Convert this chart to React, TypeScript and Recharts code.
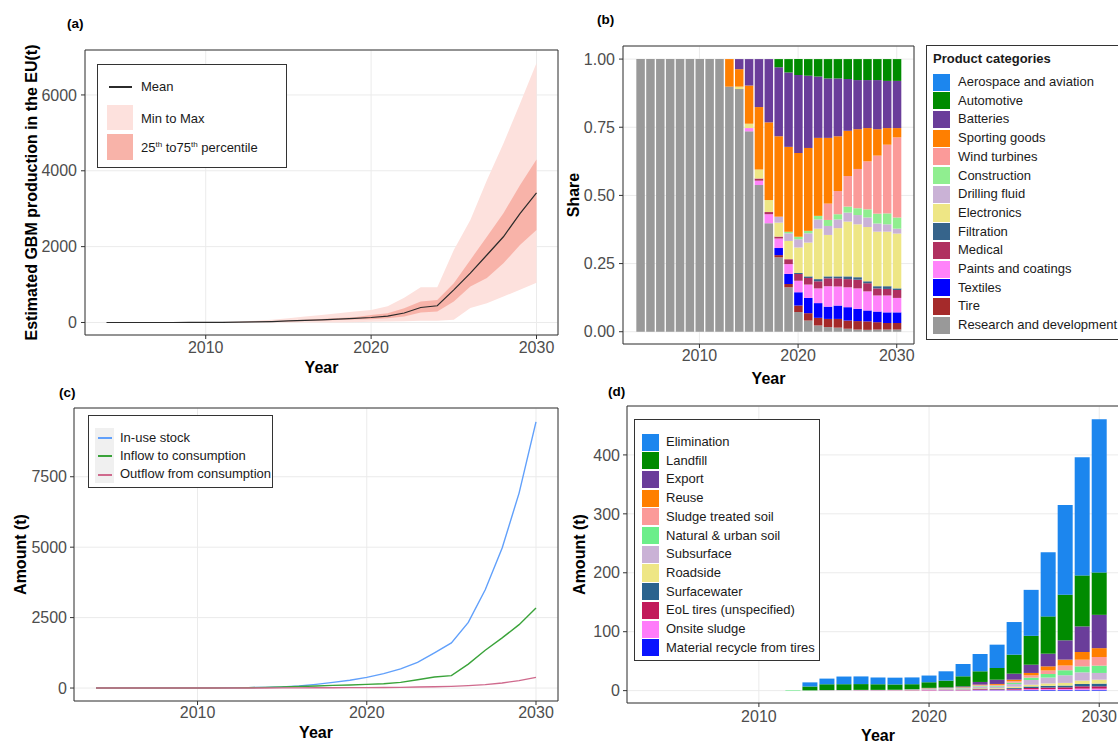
import React from 'react';
import {
  ComposedChart, BarChart, LineChart, Area, Line, Bar, XAxis, YAxis,
  CartesianGrid, ReferenceArea, Legend, Label,
} from 'recharts';

const FONT = "'Liberation Sans', Arial, Helvetica, sans-serif";
const TICK = { fontSize: 16, fill: '#4d4d4d' };
const TITLE = { fontSize: 16, fontWeight: 700, fill: '#000000' };
const GRID = '#ebebeb';
const FRAME = '#333333';

// ---------- shared categories ----------
const years = [2004, 2005, 2006, 2007, 2008, 2009, 2010, 2011, 2012, 2013, 2014, 2015, 2016, 2017,
  2018, 2019, 2020, 2021, 2022, 2023, 2024, 2025, 2026, 2027, 2028, 2029, 2030];
const xTicks = [2010, 2020, 2030];

// ---------- panel (a) ----------
const aMean = [0, 0, 0, 0, 0, 1, 2, 5, 12, 18, 25, 40, 55, 70, 88, 110, 132, 170, 250, 395, 440, 860, 1300, 1780, 2260, 2870, 3420];
const aMin = [0, 0, 0, 0, 0, 0, 0, 0, 0, 0, 0, 0, 0, 0, 0, 5, 20, 25, 30, 45, 45, 70, 380, 510, 685, 860, 1050];
const aMax = [0, 0, 0, 0, 0, 2, 5, 10, 25, 45, 70, 110, 160, 200, 245, 290, 330, 430, 650, 930, 930, 1910, 2700, 3750, 4720, 5770, 6840];
const aP25 = [0, 0, 0, 0, 0, 0, 1, 3, 8, 12, 18, 28, 40, 52, 65, 78, 88, 114, 158, 263, 290, 553, 947, 1170, 1560, 2040, 2440];
const aP75 = [0, 0, 0, 0, 0, 1, 3, 7, 15, 25, 38, 55, 75, 95, 115, 140, 200, 245, 377, 555, 596, 1035, 1650, 2260, 2880, 3620, 4300];
const aYTicks = [0, 2000, 4000, 6000];

// ---------- panel (b) ----------
const bAerospace = [0, 0, 0, 0, 0, 0, 0, 0, 0, 0, 0, 0, 0, 0, 0, 0, 0, 0, 0, 0, 0, 0, 0, 0, 0, 0, 0];
const bAutomotive = [0, 0, 0, 0, 0, 0, 0, 0, 0, 0, 0, 0, 0, 0, 0.030, 0.049, 0.058, 0.061, 0.064, 0.071, 0.071, 0.073, 0.077, 0.077, 0.077, 0.080, 0.080];
const bBatteries = [0, 0, 0, 0, 0, 0, 0, 0, 0, 0, 0.037, 0.097, 0.176, 0.232, 0.253, 0.273, 0.286, 0.265, 0.225, 0.218, 0.212, 0.190, 0.180, 0.176, 0.180, 0.173, 0.173];
const bSporting = [0, 0, 0, 0, 0, 0, 0, 0, 0, 0.101, 0.064, 0.140, 0.229, 0.285, 0.295, 0.311, 0.308, 0.304, 0.286, 0.241, 0.201, 0.166, 0.146, 0.122, 0.097, 0.061, 0.034];
const bWind = [0, 0, 0, 0, 0, 0, 0, 0, 0, 0, 0, 0, 0, 0, 0, 0, 0, 0, 0, 0.060, 0.085, 0.112, 0.144, 0.176, 0.213, 0.252, 0.294];
const bConstruction = [0, 0, 0, 0, 0, 0, 0, 0, 0, 0, 0, 0, 0, 0, 0, 0.006, 0.009, 0.009, 0.013, 0.022, 0.019, 0.022, 0.025, 0.030, 0.036, 0.040, 0.041];
const bDrilling = [0, 0, 0, 0, 0, 0, 0, 0, 0, 0, 0, 0, 0, 0, 0.022, 0.028, 0.030, 0.034, 0.034, 0.033, 0.032, 0.033, 0.034, 0.035, 0.030, 0.027, 0.018];
const bElectronics = [0, 0, 0, 0, 0, 0, 0, 0, 0, 0, 0.009, 0.016, 0.033, 0.044, 0.051, 0.067, 0.094, 0.124, 0.185, 0.152, 0.177, 0.201, 0.194, 0.199, 0.200, 0.200, 0.201];
const bFiltration = [0, 0, 0, 0, 0, 0, 0, 0, 0, 0, 0, 0, 0, 0, 0, 0, 0.003, 0.006, 0.008, 0.007, 0.007, 0.010, 0.009, 0.007, 0.008, 0.010, 0.006];
const bMedical = [0, 0, 0, 0, 0, 0, 0, 0, 0, 0, 0, 0, 0.008, 0.008, 0.007, 0.018, 0.025, 0.024, 0.026, 0.029, 0.030, 0.030, 0.032, 0.030, 0.026, 0.024, 0.029];
const bPaints = [0, 0, 0, 0, 0, 0, 0, 0, 0, 0, 0, 0.012, 0.016, 0.033, 0.035, 0.036, 0.042, 0.049, 0.054, 0.075, 0.070, 0.073, 0.075, 0.070, 0.059, 0.062, 0.053];
const bTextiles = [0, 0, 0, 0, 0, 0, 0, 0, 0, 0, 0, 0, 0, 0, 0.026, 0.037, 0.049, 0.056, 0.054, 0.045, 0.049, 0.049, 0.045, 0.040, 0.039, 0.039, 0.039];
const bTire = [0, 0, 0, 0, 0, 0, 0, 0, 0, 0, 0, 0, 0, 0, 0.008, 0.012, 0.024, 0.027, 0.028, 0.030, 0.032, 0.030, 0.031, 0.031, 0.027, 0.024, 0.024];
const bRD = [1, 1, 1, 1, 1, 1, 1, 1, 1, 0.899, 0.890, 0.735, 0.538, 0.398, 0.273, 0.163, 0.072, 0.041, 0.023, 0.017, 0.015, 0.011, 0.008, 0.007, 0.008, 0.008, 0.008];
const bYTicks = [0, 0.25, 0.5, 0.75, 1];

// legend order (top to bottom)
const bSeries = [
  { key: 'aero', name: 'Aerospace and aviation', color: '#1c86ee', values: bAerospace },
  { key: 'auto', name: 'Automotive', color: '#008b00', values: bAutomotive },
  { key: 'batt', name: 'Batteries', color: '#6a3d9a', values: bBatteries },
  { key: 'sport', name: 'Sporting goods', color: '#ff7f00', values: bSporting },
  { key: 'wind', name: 'Wind turbines', color: '#fb9a99', values: bWind },
  { key: 'cons', name: 'Construction', color: '#90ee90', values: bConstruction },
  { key: 'drill', name: 'Drilling fluid', color: '#cab2d6', values: bDrilling },
  { key: 'elec', name: 'Electronics', color: '#eee685', values: bElectronics },
  { key: 'filt', name: 'Filtration', color: '#36648b', values: bFiltration },
  { key: 'med', name: 'Medical', color: '#b03060', values: bMedical },
  { key: 'paint', name: 'Paints and coatings', color: '#ff83fa', values: bPaints },
  { key: 'text', name: 'Textiles', color: '#0000ff', values: bTextiles },
  { key: 'tire', name: 'Tire', color: '#a52a2a', values: bTire },
  { key: 'rd', name: 'Research and development', color: '#999999', values: bRD },
];

// ---------- panel (c) ----------
const cStock = [0, 0, 0, 0, 0, 1, 3, 6, 10, 15, 25, 40, 70, 130, 200, 275, 380, 510, 680, 910, 1250, 1600, 2330, 3490, 4970, 6920, 9450];
const cInflow = [0, 0, 0, 0, 0, 1, 2, 4, 7, 12, 24, 40, 55, 75, 95, 110, 130, 150, 200, 295, 390, 440, 850, 1340, 1780, 2250, 2840];
const cOutflow = [0, 0, 0, 0, 0, 0, 0, 0, 0, 2, 3, 5, 7, 9, 11, 13, 16, 20, 25, 35, 47, 60, 85, 120, 180, 265, 380];
const cYTicks = [0, 2500, 5000, 7500];
const cSeries = [
  { key: 'stock', name: 'In-use stock', color: '#61a0fb', values: cStock },
  { key: 'inflow', name: 'Inflow to consumption', color: '#3aa33a', values: cInflow },
  { key: 'outflow', name: 'Outflow from consumption', color: '#cf6a8d', values: cOutflow },
];

// ---------- panel (d) ----------
const dElimination = [0, 0, 0, 0, 0, 0, 0, 0, 0, 7, 9.6, 13, 13, 11.5, 11.5, 11.5, 11.4, 15.8, 20.9, 29.4, 39.6, 55.4, 78, 109, 152, 200.5, 260];
const dLandfill = [0, 0, 0, 0, 0, 0, 0, 0, 0, 6.5, 9.8, 9.8, 9.8, 9.5, 9, 8.5, 9.5, 11.4, 17, 18.1, 19.8, 32.2, 49, 63.3, 77.4, 86.5, 72];
const dExport = [0, 0, 0, 0, 0, 0, 0, 0, 0, 0, 0, 0, 0, 0, 0, 0.2, 0.5, 0.8, 1.5, 4.5, 7.3, 10.2, 14, 21.5, 32.8, 43.5, 56.5];
const dReuse = [0, 0, 0, 0, 0, 0, 0, 0, 0, 0, 0, 0, 0, 0, 0, 0, 0.3, 0.3, 0.5, 1, 1.5, 2.5, 4, 7, 10, 13, 15];
const dSludge = [0, 0, 0, 0, 0, 0, 0, 0, 0, 0, 0, 0, 0, 0, 0, 0.2, 0.4, 0.4, 0.5, 1, 1.5, 2.5, 4, 6, 8, 11.3, 14.7];
const dNatural = [0, 0, 0, 0, 0, 0, 0, 0, 1, 0.3, 0.3, 0.3, 0.3, 0.3, 0.3, 0.3, 0.5, 0.5, 0.8, 1.2, 1.5, 2.5, 4, 6, 8.5, 10.2, 12.4];
const dSubsurface = [0, 0, 0, 0, 0, 0, 0, 0, 0, 0.2, 0.3, 0.4, 0.4, 0.4, 0.5, 0.6, 1, 1.2, 1.5, 2.5, 2.5, 4.5, 8, 10, 13, 14, 11.4];
const dRoadside = [0, 0, 0, 0, 0, 0, 0, 0, 0, 0, 0, 0, 0, 0, 0.1, 0.2, 0.4, 0.5, 0.6, 1, 1.2, 2, 3, 4, 4.5, 5.7, 6.7];
const dSurface = [0, 0, 0, 0, 0, 0, 0, 0, 0, 0, 0, 0, 0, 0, 0, 0.1, 0.4, 0.5, 0.6, 1, 1, 1.5, 2.5, 3, 3, 4, 4.6];
const dEol = [0, 0, 0, 0, 0, 0, 0, 0, 0, 0, 0.2, 0.2, 0.3, 0.3, 0.3, 0.4, 0.6, 0.7, 0.7, 1.2, 1, 1.5, 2, 2.5, 2.8, 3.9, 3.9];
const dOnsite = [0, 0, 0, 0, 0, 0, 0, 0, 0, 0, 0.2, 0.2, 0.3, 0.3, 0.3, 0.4, 0.5, 0.4, 0.4, 0.8, 0.6, 1, 1.5, 1.5, 1.6, 2, 2];
const dMaterial = [0, 0, 0, 0, 0, 0, 0, 0, 0, 0, 0, 0, 0, 0, 0, 0, 0.1, 0.3, 0.2, 0.5, 0.5, 0.6, 1, 1.2, 1.2, 1.4, 1.4];
const dYTicks = [0, 100, 200, 300, 400];
const dSeries = [
  { key: 'elim', name: 'Elimination', color: '#1c86ee', values: dElimination },
  { key: 'land', name: 'Landfill', color: '#008b00', values: dLandfill },
  { key: 'exp', name: 'Export', color: '#6a3d9a', values: dExport },
  { key: 'reuse', name: 'Reuse', color: '#ff7f00', values: dReuse },
  { key: 'sludge', name: 'Sludge treated soil', color: '#fb9a99', values: dSludge },
  { key: 'nat', name: 'Natural & urban soil', color: '#6cee8a', values: dNatural },
  { key: 'sub', name: 'Subsurface', color: '#cab2d6', values: dSubsurface },
  { key: 'road', name: 'Roadside', color: '#eee685', values: dRoadside },
  { key: 'surf', name: 'Surfacewater', color: '#2a638e', values: dSurface },
  { key: 'eol', name: 'EoL tires (unspecified)', color: '#c21a5b', values: dEol },
  { key: 'onsite', name: 'Onsite sludge', color: '#ff7cfa', values: dOnsite },
  { key: 'mat', name: 'Material recycle from tires', color: '#0a14ff', values: dMaterial },
];

const rowsFrom = (series: { key: string; values: number[] }[]) =>
  years.map((year, i) => {
    const r: Record<string, number> = { year };
    series.forEach((s) => { r[s.key] = s.values[i]; });
    return r;
  });

const boxStyle = (w: number, h: number): React.CSSProperties => ({
  position: 'relative', width: w, height: h, border: `1px solid ${FRAME}`,
  boxSizing: 'border-box', background: '#ffffff', fontFamily: FONT, fontSize: 13, color: '#1a1a1a',
});

const sup: React.CSSProperties = { fontSize: 8, verticalAlign: 'super', lineHeight: 0 };

function LegendA() {
  return (
    <div style={boxStyle(190, 104)}>
      <div style={{ position: 'absolute', left: 11, top: 21, width: 23, height: 2, background: '#2b2b2b' }} />
      <div style={{ position: 'absolute', left: 43, top: 14, lineHeight: '16px' }}>Mean</div>
      <div style={{ position: 'absolute', left: 9, top: 40, width: 26, height: 25, background: '#fde1dd' }} />
      <div style={{ position: 'absolute', left: 43, top: 46, lineHeight: '16px' }}>Min to Max</div>
      <div style={{ position: 'absolute', left: 9, top: 69, width: 26, height: 26, background: '#f8b3a9' }} />
      <div style={{ position: 'absolute', left: 43, top: 75, lineHeight: '16px', whiteSpace: 'nowrap' }}>
        25<span style={sup}>th</span> to75<span style={sup}>th</span> percentile
      </div>
    </div>
  );
}

function LegendB() {
  return (
    <div style={boxStyle(205, 295)}>
      <div style={{ position: 'absolute', left: 6, top: 5, lineHeight: '16px', fontWeight: 700, whiteSpace: 'nowrap' }}>Product categories</div>
      {bSeries.map((s, i) => (
        <React.Fragment key={s.key}>
          <div style={{ position: 'absolute', left: 6, top: 27.5 + i * 18.7, width: 17, height: 17.2, background: s.color }} />
          <div style={{ position: 'absolute', left: 31, top: 28 + i * 18.7, lineHeight: '16px', whiteSpace: 'nowrap' }}>{s.name}</div>
        </React.Fragment>
      ))}
    </div>
  );
}

function LegendC() {
  return (
    <div style={boxStyle(185, 73)}>
      <div style={{ position: 'absolute', left: 6, top: 12, width: 18.5, height: 55, background: '#f0f0f0' }} />
      {cSeries.map((s, i) => (
        <React.Fragment key={s.key}>
          <div style={{ position: 'absolute', left: 8.5, top: 21 + i * 18.3, width: 14, height: 2, background: s.color }} />
          <div style={{ position: 'absolute', left: 31, top: 13.7 + i * 18.3, lineHeight: '16px', whiteSpace: 'nowrap' }}>{s.name}</div>
        </React.Fragment>
      ))}
    </div>
  );
}

function LegendD() {
  return (
    <div style={boxStyle(186, 242)}>
      {dSeries.map((s, i) => (
        <React.Fragment key={s.key}>
          <div style={{ position: 'absolute', left: 6.5, top: 13.5 + i * 18.7, width: 17, height: 17.2, background: s.color }} />
          <div style={{ position: 'absolute', left: 31, top: 14 + i * 18.7, lineHeight: '16px', whiteSpace: 'nowrap' }}>{s.name}</div>
        </React.Fragment>
      ))}
    </div>
  );
}

const axisCommon = {
  type: 'number' as const,
  allowDataOverflow: true,
  tick: TICK,
  tickLine: { stroke: FRAME },
  tickSize: 4,
  axisLine: false,
};

function PanelA() {
  const rows = years.map((year, i) => ({ year, mean: aMean[i], mm: [aMin[i], aMax[i]], iqr: [aP25[i], aP75[i]] }));
  const xd: [number, number] = [2002.7, 2031.3];
  const yd: [number, number] = [-330, 7185];
  return (
    <div style={{ position: 'absolute', left: 0, top: 0 }}>
      <ComposedChart width={580} height={390} data={rows} margin={{ top: 50, right: 22, bottom: 10, left: 25 }}>
        <CartesianGrid stroke={GRID} />
        <XAxis dataKey="year" {...axisCommon} domain={xd} ticks={xTicks} tickMargin={3} height={45}>
          <Label value="Year" position="insideBottom" offset={7} {...TITLE} />
        </XAxis>
        <YAxis {...axisCommon} domain={yd} ticks={aYTicks} tickMargin={4} width={60}>
          <Label value="Estimated GBM production in the EU(t)" angle={-90} position="insideLeft" offset={6}
            style={{ textAnchor: 'middle' }} {...TITLE} />
        </YAxis>
        <Area type="linear" dataKey="mm" stroke="none" fill="#fde1dd" fillOpacity={1} isAnimationActive={false} />
        <Area type="linear" dataKey="iqr" stroke="none" fill="#f8b3a9" fillOpacity={1} isAnimationActive={false} />
        <Line type="linear" dataKey="mean" stroke="#2b2b2b" strokeWidth={1.2} dot={false} isAnimationActive={false} />
        <ReferenceArea x1={xd[0]} x2={xd[1]} y1={yd[0]} y2={yd[1]} fill="none" stroke={FRAME} strokeWidth={1} ifOverflow="visible" />
        <Legend content={() => <LegendA />} layout="vertical" align="center" verticalAlign="middle"
          wrapperStyle={{ left: 97, top: 64, width: 190, height: 104 }} />
      </ComposedChart>
    </div>
  );
}

function PanelB() {
  const rows = rowsFrom(bSeries);
  const xd: [number, number] = [2002.25, 2031.75];
  const yd: [number, number] = [-0.045, 1.048];
  const stackOrder = [...bSeries].reverse();
  return (
    <div style={{ position: 'absolute', left: 540, top: 0 }}>
      <BarChart width={600} height={392} data={rows} margin={{ top: 46, right: 226, bottom: 6, left: 28 }}>
        <CartesianGrid stroke={GRID} />
        <XAxis dataKey="year" {...axisCommon} domain={xd} ticks={xTicks} tickMargin={2} height={42}>
          <Label value="Year" position="insideBottom" offset={2} {...TITLE} />
        </XAxis>
        <YAxis {...axisCommon} domain={yd} ticks={bYTicks} tickFormatter={(v: number) => v.toFixed(2)} tickMargin={4} width={55}>
          <Label value="Share" angle={-90} position="insideLeft" offset={5} style={{ textAnchor: 'middle' }} {...TITLE} />
        </YAxis>
        {stackOrder.map((s) => (
          <Bar key={s.key} dataKey={s.key} name={s.name} stackId="b" fill={s.color} barSize={8.5} isAnimationActive={false} />
        ))}
        <ReferenceArea x1={xd[0]} x2={xd[1]} y1={yd[0]} y2={yd[1]} fill="none" stroke={FRAME} strokeWidth={1} ifOverflow="visible" />
        <Legend content={() => <LegendB />} layout="vertical" align="center" verticalAlign="middle"
          wrapperStyle={{ left: 386, top: 45, width: 205, height: 295 }} />
      </BarChart>
    </div>
  );
}

function PanelC() {
  const rows = rowsFrom(cSeries);
  const xd: [number, number] = [2002.7, 2031.3];
  const yd: [number, number] = [-460, 9940];
  return (
    <div style={{ position: 'absolute', left: 0, top: 380 }}>
      <LineChart width={580} height={363} data={rows} margin={{ top: 28, right: 22, bottom: 2, left: 14 }}>
        <CartesianGrid stroke={GRID} />
        <XAxis dataKey="year" {...axisCommon} domain={xd} ticks={xTicks} tickMargin={2} height={40}>
          <Label value="Year" position="insideBottom" offset={3.5} {...TITLE} />
        </XAxis>
        <YAxis {...axisCommon} domain={yd} ticks={cYTicks} tickMargin={3} width={60}>
          <Label value="Amount (t)" angle={-90} position="insideLeft" offset={6} style={{ textAnchor: 'middle' }} {...TITLE} />
        </YAxis>
        {cSeries.map((s) => (
          <Line key={s.key} type="linear" dataKey={s.key} name={s.name} stroke={s.color} strokeWidth={1.4} dot={false} isAnimationActive={false} />
        ))}
        <ReferenceArea x1={xd[0]} x2={xd[1]} y1={yd[0]} y2={yd[1]} fill="none" stroke={FRAME} strokeWidth={1} ifOverflow="visible" />
        <Legend content={() => <LegendC />} layout="vertical" align="center" verticalAlign="middle"
          wrapperStyle={{ left: 88, top: 35, width: 185, height: 73 }} />
      </LineChart>
    </div>
  );
}

function PanelD() {
  const rows = rowsFrom(dSeries);
  const xd: [number, number] = [2002.25, 2031.75];
  const yd: [number, number] = [-21, 483];
  const stackOrder = [...dSeries].reverse();
  return (
    <div style={{ position: 'absolute', left: 570, top: 380 }}>
      <BarChart width={580} height={363} data={rows} margin={{ top: 26, right: 21, bottom: 0, left: 7 }}>
        <CartesianGrid stroke={GRID} />
        <XAxis dataKey="year" {...axisCommon} domain={xd} ticks={xTicks} tickMargin={4} height={40}>
          <Label value="Year" position="insideBottom" offset={2.3} {...TITLE} />
        </XAxis>
        <YAxis {...axisCommon} domain={yd} ticks={dYTicks} tickMargin={3} width={50}>
          <Label value="Amount (t)" angle={-90} position="insideLeft" offset={2} style={{ textAnchor: 'middle' }} {...TITLE} />
        </YAxis>
        {stackOrder.map((s) => (
          <Bar key={s.key} dataKey={s.key} name={s.name} stackId="d" fill={s.color} barSize={15} isAnimationActive={false} />
        ))}
        <ReferenceArea x1={xd[0]} x2={xd[1]} y1={yd[0]} y2={yd[1]} fill="none" stroke={FRAME} strokeWidth={1} ifOverflow="visible" />
        <Legend content={() => <LegendD />} layout="vertical" align="center" verticalAlign="middle"
          wrapperStyle={{ left: 64, top: 39, width: 186, height: 242 }} />
      </BarChart>
    </div>
  );
}

function Tag({ text, left, top }: { text: string; left: number; top: number }) {
  return (
    <div style={{ position: 'absolute', left, top, fontSize: 13.5, fontWeight: 700, lineHeight: '16px', color: '#000', fontFamily: FONT }}>
      {text}
    </div>
  );
}

export default function App() {
  return (
    <div style={{ position: 'fixed', left: 0, top: 0, width: 1118, height: 743, overflow: 'hidden', background: '#ffffff', fontFamily: FONT }}>
      <PanelA />
      <PanelB />
      <PanelC />
      <PanelD />
      <Tag text="(a)" left={67} top={16} />
      <Tag text="(b)" left={597} top={12} />
      <Tag text="(c)" left={59} top={385} />
      <Tag text="(d)" left={608} top={384} />
    </div>
  );
}
